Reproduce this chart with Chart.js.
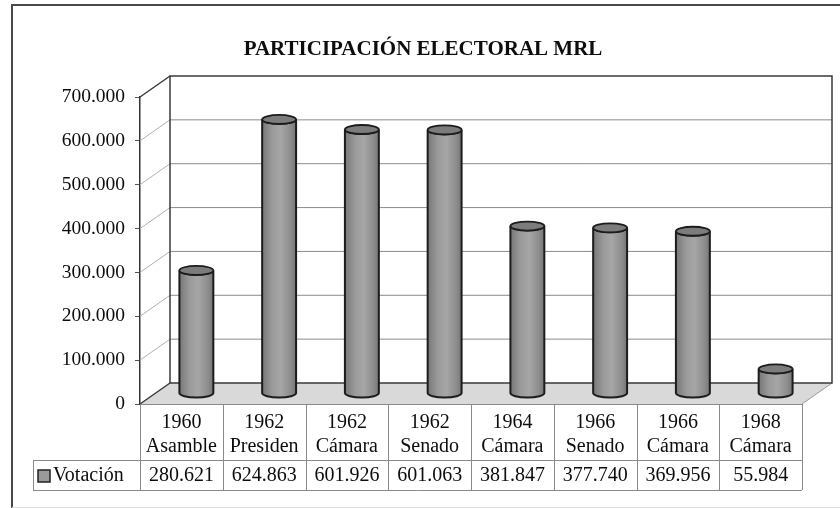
<!DOCTYPE html>
<html>
<head>
<meta charset="utf-8">
<script src="https://cdn.jsdelivr.net/npm/chart.js@4/dist/chart.umd.min.js"></script>
<style>
  html, body { margin: 0; padding: 0; background: #ffffff; }
  #wrap { width: 840px; height: 508px; position: relative; }
</style>
</head>
<body>
<div id="wrap"><canvas id="c" width="840" height="508"></canvas></div>
<script>
// ---- data ----
const titleText = 'PARTICIPACIÓN ELECTORAL MRL';
const years = ['1960', '1962', '1962', '1962', '1964', '1966', '1966', '1968'];
const elections = ['Asamble', 'Presiden', 'Cámara', 'Senado', 'Cámara', 'Senado', 'Cámara', 'Cámara'];
const seriesName = 'Votación';
const votes = [280621, 624863, 601926, 601063, 381847, 377740, 369956, 55984];
const yMin = 0;
const yMax = 700000;
const yStep = 100000;

// ---- helpers ----
const SERIF = "'Liberation Serif', 'Times New Roman', serif";
const DEPTH_X = 30, DEPTH_Y = -21;
const PAD_LEFT = 44;
function fmt(n) { return String(n).replace(/\B(?=(\d{3})+(?!\d))/g, '.'); }

const threeD = {
  id: 'threeD',
  beforeDatasetsDraw(chart) {
    const ctx = chart.ctx;
    const a = chart.chartArea;
    const ys = chart.scales.y;
    ctx.save();
    // outer frame
    ctx.strokeStyle = '#4a4a4a';
    ctx.lineWidth = 2;
    ctx.beginPath();
    ctx.moveTo(12, 508); ctx.lineTo(12, 5); ctx.lineTo(840, 5);
    ctx.stroke();
    ctx.strokeStyle = '#dddddd';
    ctx.lineWidth = 1;
    ctx.beginPath(); ctx.moveTo(12, 507.5); ctx.lineTo(840, 507.5); ctx.stroke();

    const bL = a.left + DEPTH_X, bR = a.right + DEPTH_X;
    const bT = a.top + DEPTH_Y, bB = a.bottom + DEPTH_Y;
    // floor
    ctx.fillStyle = '#d9d9d9';
    ctx.beginPath();
    ctx.moveTo(a.left, a.bottom); ctx.lineTo(bL, bB); ctx.lineTo(bR, bB); ctx.lineTo(a.right, a.bottom);
    ctx.closePath(); ctx.fill();
    ctx.strokeStyle = '#9a9a9a'; ctx.lineWidth = 1;
    ctx.beginPath(); ctx.moveTo(a.right, a.bottom); ctx.lineTo(bR, bB); ctx.stroke();

    // back wall gridlines & side wall diagonals
    for (let v = yMin + yStep; v < yMax; v += yStep) {
      const y = ys.getPixelForValue(v);
      ctx.strokeStyle = '#8c8c8c'; ctx.lineWidth = 1;
      ctx.beginPath(); ctx.moveTo(bL, y + DEPTH_Y); ctx.lineTo(bR, y + DEPTH_Y); ctx.stroke();
      ctx.strokeStyle = '#b0b0b0';
      ctx.beginPath(); ctx.moveTo(a.left, y); ctx.lineTo(bL, y + DEPTH_Y); ctx.stroke();
    }
    // back wall border
    ctx.strokeStyle = '#3a3a3a'; ctx.lineWidth = 1.5;
    ctx.beginPath();
    ctx.moveTo(bL, bB); ctx.lineTo(bL, bT); ctx.lineTo(bR, bT); ctx.lineTo(bR, bB); ctx.lineTo(bL, bB);
    ctx.stroke();
    // side wall top & bottom diagonals
    ctx.beginPath();
    ctx.moveTo(a.left, a.top); ctx.lineTo(bL, bT);
    ctx.moveTo(a.left, a.bottom); ctx.lineTo(bL, bB);
    ctx.stroke();

    // data table
    const xs = chart.scales.x;
    const n = years.length;
    const cw = (a.right - a.left) / n;
    const rowTop = a.bottom, rowMid = a.bottom + 56, rowBot = a.bottom + 86;
    const legL = 33;
    ctx.strokeStyle = '#8a8a8a'; ctx.lineWidth = 1;
    ctx.beginPath();
    ctx.moveTo(a.left, rowTop + 0.5); ctx.lineTo(a.right, rowTop + 0.5);
    ctx.moveTo(legL, rowMid + 0.5); ctx.lineTo(a.right, rowMid + 0.5);
    ctx.moveTo(legL, rowBot + 0.5); ctx.lineTo(a.right, rowBot + 0.5);
    ctx.moveTo(legL + 0.5, rowMid); ctx.lineTo(legL + 0.5, rowBot);
    for (let i = 0; i <= n; i++) {
      const x = Math.round(a.left + i * cw) + 0.5;
      ctx.moveTo(x, rowTop); ctx.lineTo(x, rowBot);
    }
    ctx.stroke();

    ctx.fillStyle = '#0d0d0d';
    ctx.font = '20px ' + SERIF;
    ctx.textAlign = 'center';
    ctx.textBaseline = 'middle';
    for (let i = 0; i < n; i++) {
      const cx = xs.getPixelForValue(i);
      ctx.fillText(years[i], cx, rowTop + 19);
      ctx.fillText(elections[i], cx, rowTop + 43);
      ctx.fillText(fmt(votes[i]), cx, rowMid + 16);
    }
    // legend key
    ctx.fillStyle = '#9a9a9a';
    ctx.fillRect(38, rowMid + 10, 12, 12);
    ctx.strokeStyle = '#222'; ctx.lineWidth = 1.5;
    ctx.strokeRect(38, rowMid + 10, 12, 12);
    ctx.fillStyle = '#0d0d0d';
    ctx.textAlign = 'left';
    ctx.fillText(seriesName, 53, rowMid + 16);
    ctx.restore();
  },
  beforeDatasetDraw() { return false; },
  afterDraw(chart) {
    const ctx = chart.ctx;
    const meta = chart.getDatasetMeta(0);
    ctx.save();
    meta.data.forEach((bar) => {
      const p = bar.getProps(['x', 'y', 'base', 'width'], true);
      const r = p.width / 2, ry = 4.5;
      const cx = p.x + DEPTH_X / 2;
      const top = p.y + DEPTH_Y / 2;
      const bottom = p.base + DEPTH_Y / 2;
      const g = ctx.createLinearGradient(cx - r, 0, cx + r, 0);
      g.addColorStop(0, '#777777');
      g.addColorStop(0.3, '#9a9a9a');
      g.addColorStop(0.55, '#a6a6a6');
      g.addColorStop(0.85, '#8c8c8c');
      g.addColorStop(1, '#757575');
      ctx.beginPath();
      ctx.moveTo(cx - r, top);
      ctx.lineTo(cx - r, bottom);
      ctx.ellipse(cx, bottom, r, ry, 0, Math.PI, 0, true);
      ctx.lineTo(cx + r, top);
      ctx.ellipse(cx, top, r, ry, 0, 0, Math.PI, false);
      ctx.closePath();
      ctx.fillStyle = g; ctx.fill();
      ctx.strokeStyle = '#1c1c1c'; ctx.lineWidth = 2; ctx.stroke();
      ctx.beginPath();
      ctx.ellipse(cx, top, r, ry, 0, 0, Math.PI * 2);
      ctx.fillStyle = '#7c7c7c'; ctx.fill();
      ctx.strokeStyle = '#1c1c1c'; ctx.lineWidth = 1.8; ctx.stroke();
    });
    ctx.restore();
  }
};

new Chart(document.getElementById('c'), {
  type: 'bar',
  data: {
    labels: years.map((y, i) => [y, elections[i]]),
    datasets: [{
      label: seriesName,
      data: votes,
      backgroundColor: '#9a9a9a',
      borderColor: '#1c1c1c',
      categoryPercentage: 1,
      barPercentage: 0.41
    }]
  },
  options: {
    responsive: false,
    animation: false,
    layout: { padding: { left: PAD_LEFT, right: 38, top: 37, bottom: 104 } },
    plugins: {
      legend: { display: false },
      tooltip: { enabled: false },
      title: {
        display: true,
        text: titleText,
        color: '#0d0d0d',
        font: { family: SERIF, size: 21, weight: 'bold', lineHeight: 1.2 },
        padding: { top: 0, bottom: 34.8 }
      }
    },
    scales: {
      x: { display: false, offset: true },
      y: {
        min: yMin, max: yMax,
        afterFit(scale) { scale.width = 140 - PAD_LEFT; },
        ticks: {
          stepSize: yStep,
          color: '#0d0d0d',
          padding: 10,
          font: { family: SERIF, size: 19.5 },
          callback: (v) => fmt(v)
        },
        grid: { display: true, drawOnChartArea: false, tickLength: 5, color: '#555' },
        border: { display: true, color: '#333', width: 1.5 }
      }
    }
  },
  plugins: [threeD]
});
</script>
</body>
</html>
